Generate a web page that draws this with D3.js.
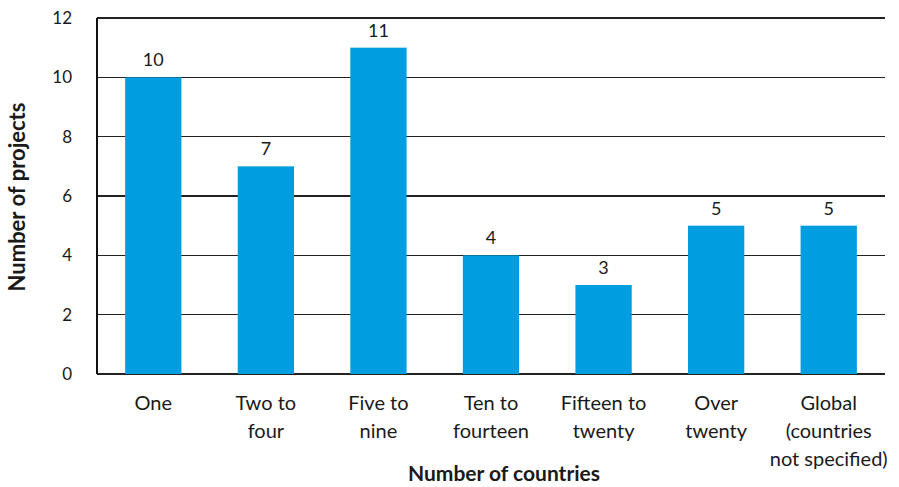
<!DOCTYPE html>
<html><head><meta charset="utf-8">
<script src="https://cdn.jsdelivr.net/npm/d3@7"></script>
<style>body{margin:0;background:#fff}svg{display:block}text{font-family:Lato,"Open Sans",sans-serif;fill:#1a1a1a}</style>
</head><body>
<svg id="c" width="899" height="487"></svg>
<script>
const categories = [["One"],["Two to","four"],["Five to","nine"],["Ten to","fourteen"],["Fifteen to","twenty"],["Over","twenty"],["Global","(countries","not specified)"]];
const values = [10,7,11,4,3,5,5];
const yTicks = [0,2,4,6,8,10,12];
const xTitle = "Number of countries";
const yTitle = "Number of projects";

const svg = d3.select("#c");
const m = {l:97, r:885, t:18, b:374};
const x = d3.scaleBand().domain(d3.range(categories.length)).range([m.l,m.r]).paddingInner(0.5).paddingOuter(0.25);
const y = d3.scaleLinear().domain([0,12]).range([m.b,m.t]);

// grid
svg.append("g").selectAll("line").data(yTicks).join("line")
  .attr("x1",m.l).attr("x2",m.r).attr("y1",d=>y(d)).attr("y2",d=>y(d))
  .attr("stroke","#222").attr("stroke-width",1.1).attr("shape-rendering","crispEdges");

// bars
svg.append("g").selectAll("rect").data(values).join("rect")
  .attr("x",(d,i)=>x(i)).attr("width",x.bandwidth())
  .attr("y",d=>y(d)).attr("height",d=>y(0)-y(d)).attr("fill","#009ee0");

// y axis line
svg.append("line").attr("x1",m.l).attr("x2",m.l).attr("y1",m.t).attr("y2",m.b)
  .attr("stroke","#111").attr("stroke-width",1.5).attr("shape-rendering","crispEdges");

// y tick labels
svg.append("g").selectAll("text").data(yTicks).join("text")
  .attr("x",72).attr("y",d=>y(d)+6).attr("text-anchor","end").attr("font-size",17).text(d=>d);

// value labels
svg.append("g").selectAll("text").data(values).join("text")
  .attr("x",(d,i)=>x(i)+x.bandwidth()/2).attr("y",d=>y(d)-11).attr("text-anchor","middle")
  .attr("font-size",18).text(d=>d);

// category labels
const cg = svg.append("g").selectAll("text").data(categories).join("text")
  .attr("text-anchor","middle").attr("font-size",20);
cg.selectAll("tspan").data((d,i)=>d.map(s=>({s,i}))).join("tspan")
  .attr("x",d=>x(d.i)+x.bandwidth()/2).attr("y",(d,j)=>410+j*28).text(d=>d.s);

svg.append("text").attr("x",504).attr("y",481).attr("text-anchor","middle")
  .attr("font-size",21).attr("font-weight","bold").text(xTitle);
svg.append("text").attr("transform","translate(25,197) rotate(-90)").attr("text-anchor","middle")
  .attr("font-size",22).attr("font-weight","bold").text(yTitle);
</script>
</body></html>
